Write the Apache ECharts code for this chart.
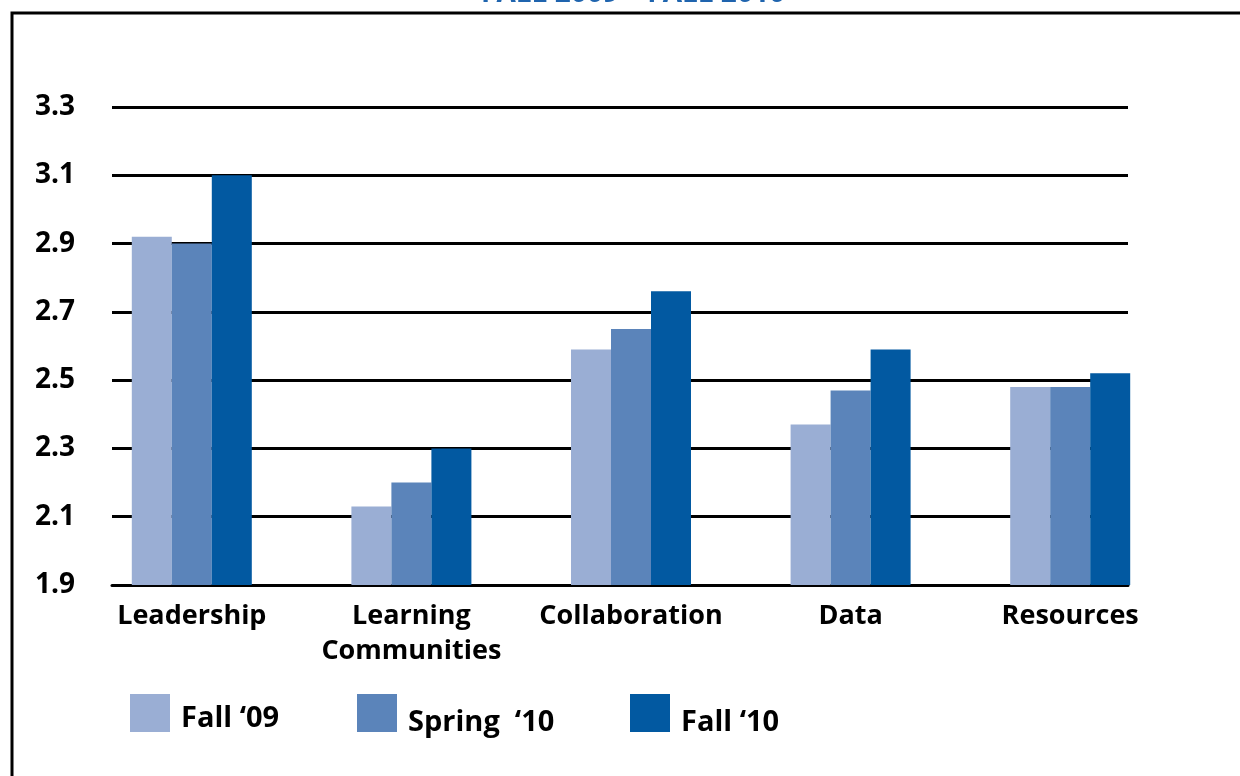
<!DOCTYPE html>
<html>
<head>
<meta charset="utf-8">
<script src="https://cdn.jsdelivr.net/npm/echarts@6/dist/echarts.min.js"></script>
<style>
  html, body { margin: 0; padding: 0; background: #fff; }
  #chart { width: 1240px; height: 776px; }
</style>
</head>
<body>
<div id="chart"></div>
<script>
var categories = ['Leadership', 'Learning\nCommunities', 'Collaboration', 'Data', 'Resources'];
var seriesNames = ['Fall \u201809', 'Spring  \u201810', 'Fall \u201810'];
var fall09 = [2.92, 2.13, 2.59, 2.37, 2.48];
var spring10 = [2.90, 2.20, 2.65, 2.47, 2.48];
var fall10 = [3.10, 2.30, 2.76, 2.59, 2.52];
var yMin = 1.9, yMax = 3.3, yStep = 0.2;
var titleText = 'FALL 2009 \u2013 FALL 2010';

var colors = ['#9AAED4', '#5B84BA', '#0259A1'];
var font = 'Open Sans';

var chart = echarts.init(document.getElementById('chart'));

// one legend per series, the reference spaces them unevenly
function legendFor(i, left, shift) {
  return {
    data: [seriesNames[i]],
    left: left,
    top: 694,
    padding: 0,
    icon: 'rect',
    itemWidth: 40,
    itemHeight: 38,
    selectedMode: false,
    formatter: '{t|{name}}',
    textStyle: {
      rich: {
        t: {
          color: '#000',
          fontFamily: font,
          fontWeight: 'bold',
          fontSize: 29,
          padding: [shift * 2, 0, 0, 6]
        }
      }
    }
  };
}

var option = {
  backgroundColor: '#fff',
  animation: false,
  graphic: [
    {
      type: 'rect',
      shape: { x: 12, y: 13, width: 1300, height: 900 },
      style: { fill: 'none', stroke: '#000', lineWidth: 3 },
      z: 0
    },
    {
      // title is cut off at the top of the reference
      type: 'text',
      style: {
        text: titleText,
        x: 633, y: 8,
        textAlign: 'center',
        textVerticalAlign: 'bottom',
        fill: '#1F64AE',
        font: 'bold 28px "Open Sans"'
      }
    }
  ],
  legend: [legendFor(0, 130, 6), legendFor(1, 357, 10), legendFor(2, 630, 10)],
  grid: [
    { left: 112, right: 112, top: 107, bottom: 191 },
    { left: 82, right: 60, top: 107, bottom: 191 }
  ],
  xAxis: [
    {
      gridIndex: 0, type: 'category', data: categories,
      axisLine: { show: true, lineStyle: { color: '#000', width: 3 } },
      axisTick: { show: false }, axisLabel: { show: false }
    },
    {
      gridIndex: 1, type: 'category', data: categories,
      axisLine: { show: false }, axisTick: { show: false },
      axisLabel: {
        interval: 0,
        margin: 14,
        color: '#000',
        fontFamily: font,
        fontWeight: 'bold',
        fontSize: 27,
        lineHeight: 35
      }
    }
  ],
  yAxis: [
    {
      gridIndex: 0, type: 'value', min: yMin, max: yMax, interval: yStep,
      axisLine: { show: false }, axisTick: { show: false },
      splitLine: { show: true, lineStyle: { color: '#000', width: 3 } },
      axisLabel: {
        margin: 37,
        color: '#000',
        fontFamily: font,
        fontWeight: 'bold',
        fontSize: 28,
        formatter: function (v) { return v.toFixed(1); }
      }
    },
    {
      gridIndex: 1, type: 'value', min: yMin, max: yMax,
      show: false, splitLine: { show: false }
    }
  ],
  series: [fall09, spring10, fall10].map(function (d, i) {
    return {
      name: seriesNames[i],
      type: 'bar',
      xAxisIndex: 1,
      yAxisIndex: 1,
      data: d,
      barWidth: 40,
      barGap: '0%',
      clip: true,
      itemStyle: { color: colors[i] },
      z: 5
    };
  })
};

chart.setOption(option);
</script>
</body>
</html>
